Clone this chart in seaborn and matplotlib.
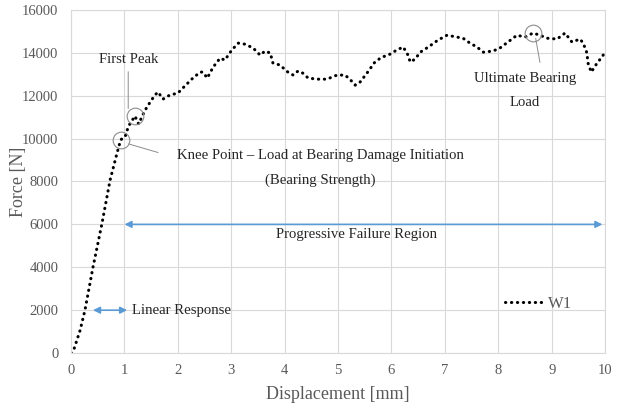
import matplotlib
matplotlib.use("Agg")
import matplotlib.pyplot as plt
import seaborn as sns
import pandas as pd

# force-displacement curve
disp = [0, 0.05, 0.17, 0.26, 0.41, 0.58, 0.73, 0.86, 0.93, 1.01, 1.07, 1.12, 1.20,
        1.24, 1.27, 1.33, 1.42, 1.57, 1.63, 1.72, 1.85, 2.00, 2.13, 2.28, 2.42,
        2.47, 2.55, 2.66, 2.79, 2.88, 3.01, 3.13, 3.26, 3.41, 3.54, 3.63, 3.73,
        3.78, 3.91, 4.06, 4.16, 4.25, 4.34, 4.44, 4.61, 4.79, 4.98, 5.13, 5.22,
        5.32, 5.41, 5.54, 5.69, 5.82, 5.94, 6.10, 6.22, 6.31, 6.35, 6.44, 6.54,
        6.69, 6.87, 7.04, 7.23, 7.34, 7.47, 7.60, 7.72, 7.90, 8.03, 8.18, 8.35,
        8.50, 8.65, 8.78, 8.91, 9.10, 9.25, 9.38, 9.53, 9.59, 9.66, 9.68, 9.74,
        9.85, 9.94, 10.0]
force = [0, 150, 1070, 2000, 4000, 6060, 8060, 9320, 9950, 10070, 10540, 10770, 11050,
         10770, 10680, 11050, 11470, 12030, 12170, 11840, 12030, 12120, 12450, 12820, 13100,
         13100, 12820, 13330, 13750, 13660, 14130, 14450, 14400, 14220, 13890, 14080, 13990,
         13520, 13430, 13100, 12960, 13150, 13050, 12820, 12770, 12770, 12960, 12960, 12770,
         12490, 12630, 13050, 13570, 13800, 13890, 14130, 14270, 13890, 13570, 13700, 14030,
         14270, 14590, 14820, 14730, 14680, 14450, 14270, 14030, 14080, 14220, 14500, 14820,
         14730, 14920, 14820, 14680, 14640, 14920, 14500, 14640, 14450, 13990, 13520, 13100,
         13520, 13800, 14030]

knee_idx = 8
peak_idx = 12
ult_idx = 74

df = pd.DataFrame({"Displacement [mm]": disp, "Force [N]": force})

sns.set_style("whitegrid", {"grid.color": "#d9d9d9", "axes.edgecolor": "#d9d9d9"})
plt.rcParams["font.family"] = ["Liberation Serif", "DejaVu Serif"]

fig, ax = plt.subplots(figsize=(6.29, 4.12), dpi=100)
fig.subplots_adjust(left=0.113, right=0.962, top=0.976, bottom=0.143)

sns.lineplot(data=df, x="Displacement [mm]", y="Force [N]", ax=ax, color="black",
             linewidth=2.2, linestyle=(0, (0.1, 1.85)), dash_capstyle="round",
             label="W1", sort=False)

ax.set_xlim(0, 10)
ax.set_ylim(0, 16000)
ax.set_xticks(range(0, 11))
ax.set_yticks(range(0, 16001, 2000))
ax.tick_params(axis="y", labelsize=10.5, labelcolor="#595959", length=0, pad=9)
ax.tick_params(axis="x", labelsize=10.5, labelcolor="#595959", length=0, pad=8)
ax.set_xlabel("Displacement [mm]", fontsize=13, color="#595959")
ax.set_ylabel("Force [N]", fontsize=13, color="#595959")
ax.yaxis.set_label_coords(-0.082, 0.5)
ax.xaxis.set_label_coords(0.5, -0.095)
for s in ax.spines.values():
    s.set_color("#d9d9d9")

txt = "#262626"
fs = 10.6
circ = dict(marker="o", markersize=12, markerfacecolor="none",
            markeredgecolor="#8c8c8c", markeredgewidth=0.8, linestyle="none")

# first peak
px, py = disp[peak_idx], force[peak_idx]
ax.plot([px], [py], **circ)
ax.annotate("First Peak", xy=(px - 0.13, py + 350), xytext=(1.07, 13400),
            ha="center", va="bottom", fontsize=fs, color=txt,
            arrowprops=dict(arrowstyle="-", color="#8c8c8c", lw=0.7, shrinkB=0, shrinkA=2))

# knee point
kx, ky = disp[knee_idx], force[knee_idx]
ax.plot([kx], [ky], **circ)
ax.annotate("", xy=(kx + 0.15, ky - 200), xytext=(1.63, 9350),
            arrowprops=dict(arrowstyle="-", color="#8c8c8c", lw=0.7, shrinkA=0, shrinkB=0))
ax.text(4.67, 9200, "Knee Point \u2013 Load at Bearing Damage Initiation",
        ha="center", va="center", fontsize=fs, color=txt)
ax.text(4.67, 8050, "(Bearing Strength)", ha="center", va="center", fontsize=fs, color=txt)

# ultimate bearing load
ux, uy = disp[ult_idx], force[ult_idx]
ax.plot([ux], [uy], **circ)
ax.annotate("", xy=(ux + 0.05, uy - 250), xytext=(8.78, 13550),
            arrowprops=dict(arrowstyle="-", color="#8c8c8c", lw=0.7, shrinkA=0, shrinkB=0))
ax.text(8.5, 12800, "Ultimate Bearing", ha="center", va="center", fontsize=fs, color=txt)
ax.text(8.5, 11700, "Load", ha="center", va="center", fontsize=fs, color=txt)

# region arrows
blue = "#5b9bd5"
ax.annotate("", xy=(1.0, 6000), xytext=(9.95, 6000),
            arrowprops=dict(arrowstyle="<|-|>", color=blue, lw=1.2,
                            mutation_scale=10, shrinkA=0, shrinkB=0))
ax.text(5.35, 5550, "Progressive Failure Region", ha="center", va="center",
        fontsize=fs, color=txt)
ax.annotate("", xy=(0.41, 2000), xytext=(1.05, 2000),
            arrowprops=dict(arrowstyle="<|-|>", color=blue, lw=1.2,
                            mutation_scale=10, shrinkA=0, shrinkB=0))
ax.text(1.15, 2000, "Linear Response", ha="left", va="center", fontsize=fs, color=txt)

leg = ax.legend(loc="center left", bbox_to_anchor=(0.812, 0.143), frameon=False,
                fontsize=12, handlelength=2.3, handletextpad=0.3,
                borderpad=0, borderaxespad=0)
for t in leg.get_texts():
    t.set_color("#595959")

fig.savefig("out.png", dpi=100)
